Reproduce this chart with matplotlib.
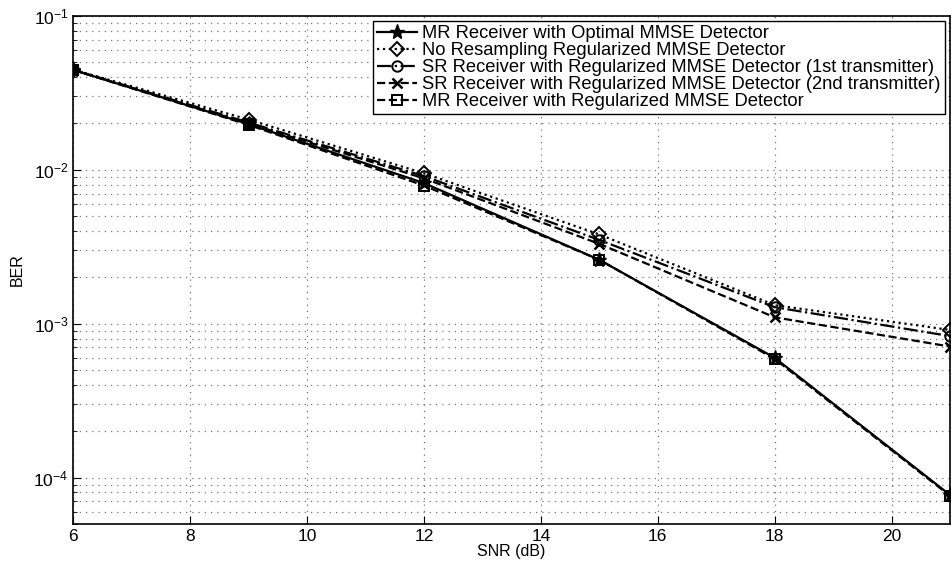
import numpy as np
import matplotlib.pyplot as plt

plt.rcParams['font.family'] = ['Liberation Sans', 'DejaVu Sans']

# SNR points (dB)
snr_db = [6, 9, 12, 15, 18, 21]

# BER values
ber_mr_opt = [0.0446, 0.0198, 0.0082, 0.0026, 0.00060, 0.000077]
ber_no_resamp = [0.0448, 0.0212, 0.0095, 0.0038, 0.00132, 0.00091]
ber_sr_1st = [0.0446, 0.0203, 0.0091, 0.0035, 0.00128, 0.00083]
ber_sr_2nd = [0.0446, 0.0200, 0.0088, 0.0033, 0.00110, 0.00071]
ber_mr_reg = [0.0446, 0.0196, 0.0079, 0.0026, 0.00059, 0.000076]

labels = ['MR Receiver with Optimal MMSE Detector',
          'No Resampling Regularized MMSE Detector',
          'SR Receiver with Regularized MMSE Detector (1st transmitter)',
          'SR Receiver with Regularized MMSE Detector (2nd transmitter)',
          'MR Receiver with Regularized MMSE Detector']

fig = plt.figure(figsize=(9.51, 5.70), dpi=100)
ax = fig.add_axes([0.077, 0.081, 0.922, 0.891])

ax.semilogy(snr_db, ber_mr_opt, '-', color='k', lw=1.6, marker='*', ms=11,
            mfc='k', mec='k', label=labels[0], zorder=6)
ax.semilogy(snr_db, ber_no_resamp, ':', color='k', lw=1.6, marker='D', ms=7,
            mfc='none', mec='k', mew=1.4, label=labels[1])
ax.semilogy(snr_db, ber_sr_1st, '-.', color='k', lw=1.6, marker='o', ms=7.5,
            mfc='none', mec='k', mew=1.4, label=labels[2])
ax.semilogy(snr_db, ber_sr_2nd, '--', color='k', lw=1.6, marker='x', ms=6.5,
            mec='k', mew=1.8, label=labels[3])
ax.semilogy(snr_db, ber_mr_reg, '--', color='k', lw=1.6, marker='s', ms=6.5,
            mfc='none', mec='k', mew=1.4, label=labels[4])

ax.set_xlim(6, 21)
ax.set_ylim(5e-5, 1e-1)
ax.set_xticks(np.arange(6, 21, 2))
ax.set_xlabel('SNR (dB)', fontsize=11.5, labelpad=0)
ax.set_ylabel('BER', fontsize=11.5, labelpad=6)
ax.tick_params(which='both', direction='in', labelsize=12.5)
ax.tick_params(which='major', length=6)
ax.tick_params(which='minor', length=3)
ax.grid(True, which='major', linestyle=(0, (1, 4)), color='#777777', lw=0.9)
ax.grid(True, which='minor', axis='y', linestyle=(0, (1, 4)), color='#777777', lw=0.9)
for s in ax.spines.values():
    s.set_linewidth(1.2)

ax.legend(loc='upper right', fontsize=13.2, fancybox=False, framealpha=1,
          edgecolor='k', borderpad=0.2, labelspacing=0.0, handlelength=2.2,
          handletextpad=0.3, borderaxespad=0.3)

plt.savefig('out.png', dpi=100)
